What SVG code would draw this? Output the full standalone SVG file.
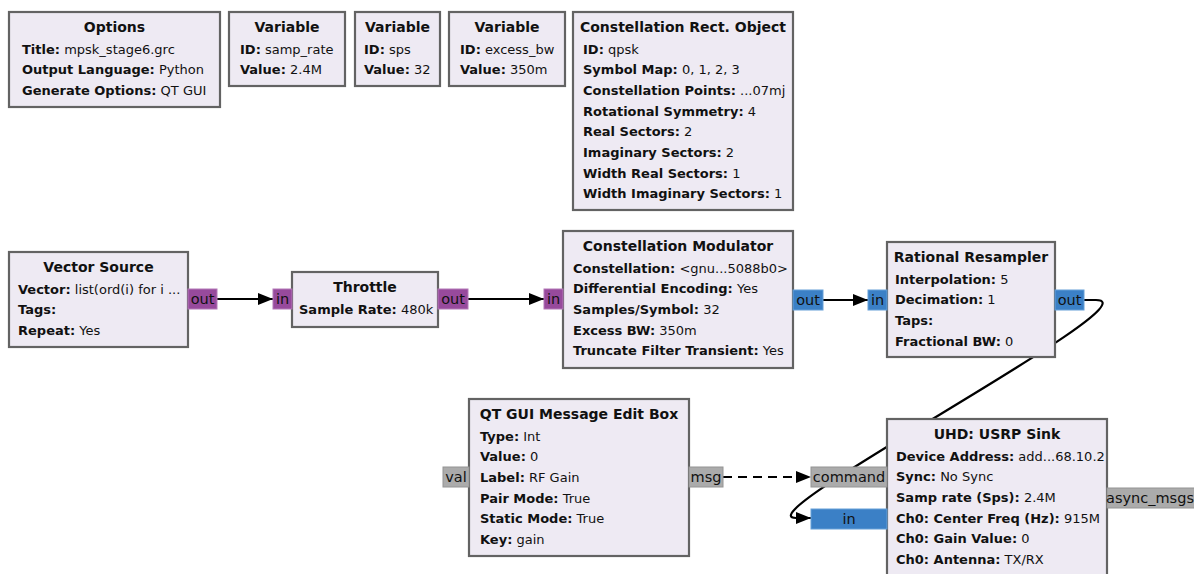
<svg xmlns="http://www.w3.org/2000/svg" width="1194" height="574" viewBox="0 0 1194 574">
<defs>
<style>
.blk{fill:#eeeaf3;stroke:#636363;stroke-width:2.2}
.t{font-family:"DejaVu Sans",sans-serif;font-size:14px;font-weight:bold;fill:#111;text-anchor:middle}
.p{font-family:"DejaVu Sans",sans-serif;font-size:13px;fill:#111}
.p tspan.k{font-weight:bold}
.pl{font-family:"DejaVu Sans",sans-serif;font-size:14.5px;fill:#111;text-anchor:middle}
.pb{fill:#974a9c;stroke:#b378b8;stroke-width:1}
.pc{fill:#3b80c6;stroke:#66a0d8;stroke-width:1}
.pm{fill:#ababab;stroke:#949494;stroke-width:1}
.c{fill:none;stroke:#000;stroke-width:2.2}
.d{stroke-dasharray:9,6}
</style>
<marker id="ar" viewBox="0 0 15 12" refX="15" refY="6" markerWidth="15" markerHeight="12" markerUnits="userSpaceOnUse" orient="auto">
<path d="M0,0 L15,6 L0,12 z" fill="#000"/>
</marker>
</defs>
<rect width="1194" height="574" fill="#fff"/>

<g id="connectors">
<path class="c" d="M217,299 L273,299" marker-end="url(#ar)"/>
<path class="c" d="M468,299 L544,299" marker-end="url(#ar)"/>
<path class="c" d="M823,300 L868,300" marker-end="url(#ar)"/>
<path class="c" d="M1084,300 L1096,300 C1160,300 740,518 796,518 L811,518" marker-end="url(#ar)"/>
<path class="c d" d="M723,477 L811,477" marker-end="url(#ar)"/>
</g>

<g id="options">
<rect class="blk" x="9" y="12" width="211" height="95"/>
<text class="t" x="114.5" y="32">Options</text>
<text class="p" x="22" y="53.5"><tspan class="k">Title:</tspan> mpsk_stage6.grc</text>
<text class="p" x="22" y="74.2"><tspan class="k">Output Language:</tspan> Python</text>
<text class="p" x="22" y="94.9"><tspan class="k">Generate Options:</tspan> QT GUI</text>
</g>

<g id="var_samp_rate">
<rect class="blk" x="229" y="12" width="116" height="74"/>
<text class="t" x="287" y="32">Variable</text>
<text class="p" x="240" y="53.5"><tspan class="k">ID:</tspan> samp_rate</text>
<text class="p" x="240" y="74.2"><tspan class="k">Value:</tspan> 2.4M</text>
</g>

<g id="var_sps">
<rect class="blk" x="355" y="12" width="85" height="74"/>
<text class="t" x="397.5" y="32">Variable</text>
<text class="p" x="364" y="53.5"><tspan class="k">ID:</tspan> sps</text>
<text class="p" x="364" y="74.2"><tspan class="k">Value:</tspan> 32</text>
</g>

<g id="var_excess_bw">
<rect class="blk" x="449" y="12" width="116" height="74"/>
<text class="t" x="507" y="32">Variable</text>
<text class="p" x="460" y="53.5"><tspan class="k">ID:</tspan> excess_bw</text>
<text class="p" x="460" y="74.2"><tspan class="k">Value:</tspan> 350m</text>
</g>

<g id="constellation_rect">
<rect class="blk" x="573" y="12" width="220" height="198"/>
<text class="t" x="683" y="32">Constellation Rect. Object</text>
<text class="p" x="583" y="53.5"><tspan class="k">ID:</tspan> qpsk</text>
<text class="p" x="583" y="74.2"><tspan class="k">Symbol Map:</tspan> 0, 1, 2, 3</text>
<text class="p" x="583" y="94.9"><tspan class="k">Constellation Points:</tspan> ...07mj</text>
<text class="p" x="583" y="115.6"><tspan class="k">Rotational Symmetry:</tspan> 4</text>
<text class="p" x="583" y="136.3"><tspan class="k">Real Sectors:</tspan> 2</text>
<text class="p" x="583" y="157"><tspan class="k">Imaginary Sectors:</tspan> 2</text>
<text class="p" x="583" y="177.7"><tspan class="k">Width Real Sectors:</tspan> 1</text>
<text class="p" x="583" y="198.4"><tspan class="k">Width Imaginary Sectors:</tspan> 1</text>
</g>

<g id="vector_source">
<rect class="blk" x="9" y="252" width="179" height="95"/>
<text class="t" x="98.5" y="272">Vector Source</text>
<text class="p" x="18" y="293.5"><tspan class="k">Vector:</tspan> list(ord(i) for i ...</text>
<text class="p" x="18" y="314.2"><tspan class="k">Tags:</tspan></text>
<text class="p" x="18" y="334.9"><tspan class="k">Repeat:</tspan> Yes</text>
<rect class="pb" x="188" y="289" width="29" height="20"/>
<text class="pl" x="202.5" y="304">out</text>
</g>

<g id="throttle">
<rect class="blk" x="292" y="272" width="146" height="55"/>
<text class="t" x="365" y="292">Throttle</text>
<text class="p" x="299" y="313.5"><tspan class="k">Sample Rate:</tspan> 480k</text>
<rect class="pb" x="273" y="289" width="19" height="20"/>
<text class="pl" x="282.5" y="304">in</text>
<rect class="pb" x="438" y="289" width="30" height="20"/>
<text class="pl" x="453" y="304">out</text>
</g>

<g id="constellation_modulator">
<rect class="blk" x="563" y="231" width="230" height="137"/>
<text class="t" x="678" y="251">Constellation Modulator</text>
<text class="p" x="573" y="272.5"><tspan class="k">Constellation:</tspan> &lt;gnu...5088b0&gt;</text>
<text class="p" x="573" y="293.2"><tspan class="k">Differential Encoding:</tspan> Yes</text>
<text class="p" x="573" y="313.9"><tspan class="k">Samples/Symbol:</tspan> 32</text>
<text class="p" x="573" y="334.6"><tspan class="k">Excess BW:</tspan> 350m</text>
<text class="p" x="573" y="355.3"><tspan class="k">Truncate Filter Transient:</tspan> Yes</text>
<rect class="pb" x="544" y="289" width="19" height="20"/>
<text class="pl" x="553.5" y="304">in</text>
<rect class="pc" x="793" y="290" width="30" height="20"/>
<text class="pl" x="808" y="305">out</text>
</g>

<g id="rational_resampler">
<rect class="blk" x="887" y="242" width="168" height="115"/>
<text class="t" x="971" y="262">Rational Resampler</text>
<text class="p" x="895" y="283.5"><tspan class="k">Interpolation:</tspan> 5</text>
<text class="p" x="895" y="304.2"><tspan class="k">Decimation:</tspan> 1</text>
<text class="p" x="895" y="324.9"><tspan class="k">Taps:</tspan></text>
<text class="p" x="895" y="345.6"><tspan class="k">Fractional BW:</tspan> 0</text>
<rect class="pc" x="868" y="290" width="19" height="20"/>
<text class="pl" x="877.5" y="305">in</text>
<rect class="pc" x="1055" y="290" width="29" height="20"/>
<text class="pl" x="1069.5" y="305">out</text>
</g>

<g id="qt_gui_msg_edit_box">
<rect class="blk" x="469" y="399" width="220" height="157"/>
<text class="t" x="579" y="419">QT GUI Message Edit Box</text>
<text class="p" x="480" y="440.5"><tspan class="k">Type:</tspan> Int</text>
<text class="p" x="480" y="461.2"><tspan class="k">Value:</tspan> 0</text>
<text class="p" x="480" y="481.9"><tspan class="k">Label:</tspan> RF Gain</text>
<text class="p" x="480" y="502.6"><tspan class="k">Pair Mode:</tspan> True</text>
<text class="p" x="480" y="523.3"><tspan class="k">Static Mode:</tspan> True</text>
<text class="p" x="480" y="544"><tspan class="k">Key:</tspan> gain</text>
<rect class="pm" x="443" y="467" width="26" height="20"/>
<text class="pl" x="456" y="482">val</text>
<rect class="pm" x="689" y="467" width="34" height="20"/>
<text class="pl" x="706" y="482">msg</text>
</g>

<g id="uhd_usrp_sink">
<rect class="blk" x="887" y="419" width="220" height="165"/>
<text class="t" x="997" y="439">UHD: USRP Sink</text>
<text class="p" x="896" y="460.5"><tspan class="k">Device Address:</tspan> add...68.10.2</text>
<text class="p" x="896" y="481.2"><tspan class="k">Sync:</tspan> No Sync</text>
<text class="p" x="896" y="501.9"><tspan class="k">Samp rate (Sps):</tspan> 2.4M</text>
<text class="p" x="896" y="522.6"><tspan class="k">Ch0: Center Freq (Hz):</tspan> 915M</text>
<text class="p" x="896" y="543.3"><tspan class="k">Ch0: Gain Value:</tspan> 0</text>
<text class="p" x="896" y="564"><tspan class="k">Ch0: Antenna:</tspan> TX/RX</text>
<rect class="pm" x="811" y="467" width="76" height="20"/>
<text class="pl" x="849" y="482">command</text>
<rect class="pc" x="811" y="509" width="76" height="20"/>
<text class="pl" x="849" y="524">in</text>
<rect class="pm" x="1107" y="488" width="90" height="20"/>
<text class="pl" x="1150" y="503">async_msgs</text>
</g>
</svg>
